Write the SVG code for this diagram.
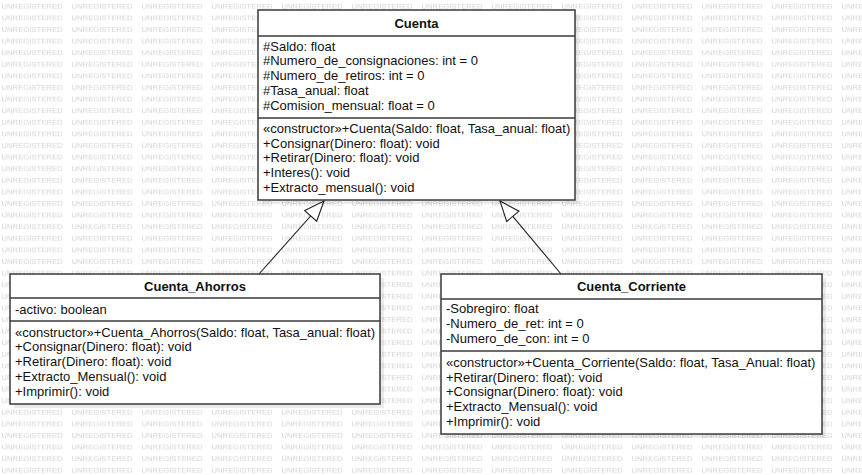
<svg xmlns="http://www.w3.org/2000/svg" width="862" height="475" viewBox="0 0 862 475">
<defs>
<style>
.wm{font-family:"Liberation Sans",Arial,sans-serif;font-size:7.7px;fill:#d4d4d4}
.box{fill:#ffffff;stroke:#3a3a3a;stroke-width:1.5}
.shadow{fill:#000000;fill-opacity:0.08}
.div{stroke:#3a3a3a;stroke-width:1.5}
.t{font-family:"Liberation Sans",Arial,sans-serif;font-size:13px;fill:#111}
.title{font-family:"Liberation Sans",Arial,sans-serif;font-size:13px;font-weight:bold;fill:#111;text-anchor:middle}
.edge{fill:none;stroke:#222;stroke-width:1.1}
</style>
<pattern id="wmp" patternUnits="userSpaceOnUse" x="0" y="0" width="70" height="11.6">
<text class="wm" x="1.5" y="9">UNREGISTERED</text>
</pattern>
<marker id="tri" markerUnits="userSpaceOnUse" viewBox="-2 -2 24 20" refX="20" refY="8" markerWidth="24" markerHeight="20" orient="auto">
<path d="M0,0 L20,8 L0,16 Z" fill="#ffffff" stroke="#222" stroke-width="1.1"/>
</marker>
</defs>
<rect x="0" y="0" width="862" height="475" fill="#ffffff"/>
<rect x="0" y="0" width="862" height="475" fill="url(#wmp)"/>

<g id="connectors">
<line class="edge" x1="259" y1="274" x2="324" y2="201" marker-end="url(#tri)"/>
<line class="edge" x1="561" y1="274" x2="500" y2="201" marker-end="url(#tri)"/>
</g>

<g id="Cuenta">
<rect class="shadow" x="262" y="14" width="317" height="190"/>
<rect class="box" x="258" y="10" width="317" height="190"/>
<line class="div" x1="258" y1="36" x2="575" y2="36"/>
<line class="div" x1="258" y1="118" x2="575" y2="118"/>
<text class="title" x="416.5" y="27.5">Cuenta</text>
<text class="t" x="263" y="50.5">#Saldo: float</text>
<text class="t" x="263" y="65.3">#Numero_de_consignaciones: int = 0</text>
<text class="t" x="263" y="80.1">#Numero_de_retiros: int = 0</text>
<text class="t" x="263" y="94.9">#Tasa_anual: float</text>
<text class="t" x="263" y="109.7">#Comision_mensual: float = 0</text>
<text class="t" x="263" y="132.7">«constructor»+Cuenta(Saldo: float, Tasa_anual: float)</text>
<text class="t" x="263" y="147.5">+Consignar(Dinero: float): void</text>
<text class="t" x="263" y="162.3">+Retirar(Dinero: float): void</text>
<text class="t" x="263" y="177.1">+Interes(): void</text>
<text class="t" x="263" y="191.9">+Extracto_mensual(): void</text>
</g>

<g id="Cuenta_Ahorros">
<rect class="shadow" x="14" y="278" width="370" height="130"/>
<rect class="box" x="10" y="274" width="370" height="130"/>
<line class="div" x1="10" y1="298" x2="380" y2="298"/>
<line class="div" x1="10" y1="321" x2="380" y2="321"/>
<text class="title" x="195" y="290.5">Cuenta_Ahorros</text>
<text class="t" x="15" y="313.5">-activo: boolean</text>
<text class="t" x="15" y="336.7">«constructor»+Cuenta_Ahorros(Saldo: float, Tasa_anual: float)</text>
<text class="t" x="15" y="351.4">+Consignar(Dinero: float): void</text>
<text class="t" x="15" y="366.1">+Retirar(Dinero: float): void</text>
<text class="t" x="15" y="380.8">+Extracto_Mensual(): void</text>
<text class="t" x="15" y="395.5">+Imprimir(): void</text>
</g>

<g id="Cuenta_Corriente">
<rect class="shadow" x="445" y="278" width="381" height="160"/>
<rect class="box" x="441" y="274" width="381" height="160"/>
<line class="div" x1="441" y1="299" x2="822" y2="299"/>
<line class="div" x1="441" y1="351" x2="822" y2="351"/>
<text class="title" x="631.5" y="291">Cuenta_Corriente</text>
<text class="t" x="446" y="313.3">-Sobregiro: float</text>
<text class="t" x="446" y="328">-Numero_de_ret: int = 0</text>
<text class="t" x="446" y="342.7">-Numero_de_con: int = 0</text>
<text class="t" x="446" y="366.7">«constructor»+Cuenta_Corriente(Saldo: float, Tasa_Anual: float)</text>
<text class="t" x="446" y="381.5">+Retirar(Dinero: float): void</text>
<text class="t" x="446" y="396.3">+Consignar(Dinero: float): void</text>
<text class="t" x="446" y="411.1">+Extracto_Mensual(): void</text>
<text class="t" x="446" y="425.9">+Imprimir(): void</text>
</g>
</svg>
